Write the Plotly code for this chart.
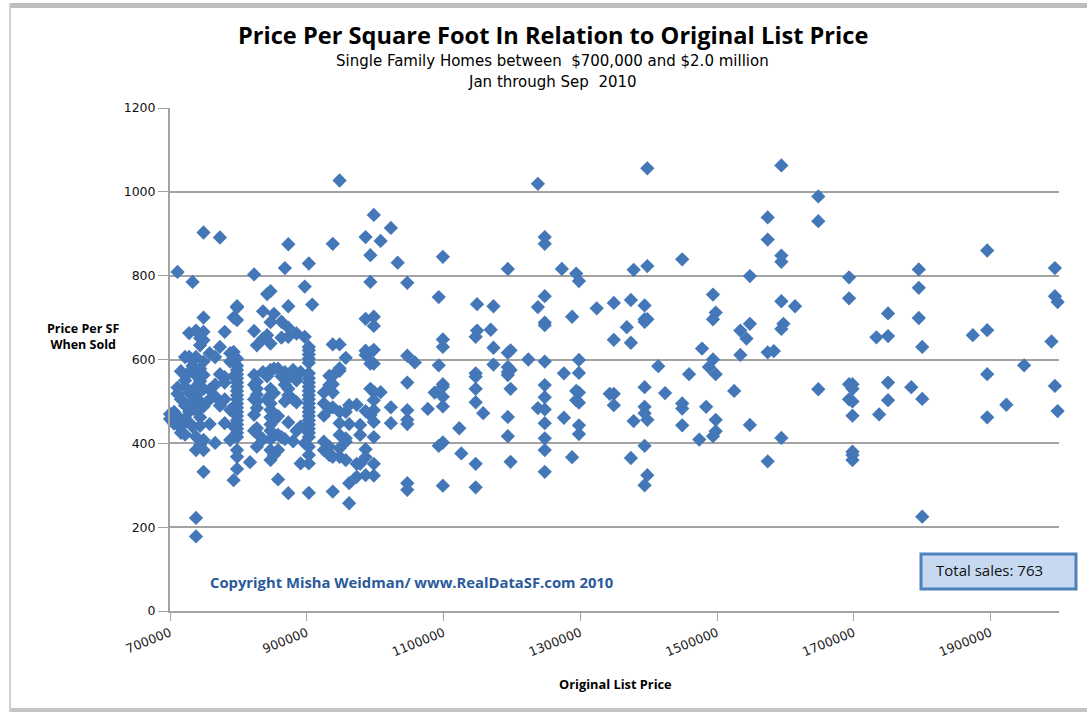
import plotly.graph_objects as go

# (list price, [price per square foot of the sales at that price])
band_700s = [
    (700000, [470, 458]), (706000, [475, 447]), (711000, [809, 533, 518, 465, 445]),
    (716000, [572, 505, 440, 425]), (722000, [606, 550, 535, 490, 458, 421]),
    (728000, [663, 606, 570, 520, 475, 450]), (733000, [785, 585, 500, 440]),
    (738000, [669, 606, 562, 535, 515, 478, 416, 384, 222, 178]),
    (744000, [651, 634, 578, 548, 500, 462, 442, 396]),
    (749000, [903, 700, 666, 646, 595, 563, 530, 488, 408, 384, 332]),
    (758000, [615, 528, 505, 446]), (766000, [606, 540, 512, 401]),
    (773000, [891, 630, 565, 490]), (780000, [666, 558, 545, 505, 448]),
    (788000, [615, 595, 480, 408]), (793000, [700, 618, 560, 440, 312]),
    (798000, [727, 724, 694, 602, 585, 575, 565, 555, 545, 535, 525, 515, 505, 495, 485, 475, 465, 455, 445, 435, 425, 415, 384, 368, 339]),
]
band_800s = [
    (817000, [355]), (823000, [803, 668, 563, 540, 505, 468, 430]),
    (827000, [634, 547, 530, 516, 500, 484, 436, 424, 392]), (836000, [715, 650, 570, 410]),
    (842000, [756, 658, 560, 505]), (847000, [763, 689, 638, 575, 530, 515, 495, 480, 462, 445, 430, 410, 384, 360]),
    (852000, [709, 578, 520, 455, 372]), (858000, [578, 465, 420, 384, 314]),
    (863000, [690, 652, 560, 415]), (868000, [818, 570, 540, 500, 410]),
    (873000, [875, 727, 676, 654, 555, 530, 515, 450, 281]), (880000, [575, 505, 405]),
    (885000, [662, 550, 498, 430]), (891000, [570, 440, 352]), (897000, [774, 654, 400]),
    (903000, [829, 630, 622, 612, 602, 592, 567, 555, 545, 535, 525, 515, 505, 495, 485, 475, 465, 455, 445, 435, 425, 415, 392, 372, 352, 282]),
    (908000, [731]),
]
band_900s = [
    (925000, [521, 495, 466, 404, 384]), (933000, [561, 539, 483, 392, 372]),
    (938000, [876, 636, 561, 541, 521, 486, 368, 285]), (948000, [1027, 636, 579, 573, 475, 448, 420, 388, 368]),
    (957000, [604, 475, 412, 404, 360]), (962000, [491, 446, 305, 257]), (973000, [492, 351, 320]),
    (978000, [444, 420, 351]), (986000, [892, 697, 621, 611, 477, 386, 367, 324]),
    (993000, [849, 785, 616, 590, 530, 467]),
    (998000, [945, 702, 680, 623, 590, 523, 503, 479, 451, 415, 351, 323]),
]
band_1000s = [
    (1008000, [883, 522]), (1023000, [914, 486, 448]), (1033000, [831]),
    (1047000, [783, 609, 545, 479, 456, 446, 305, 289]), (1058000, [593]), (1077000, [482]),
    (1087000, [521]), (1093000, [749, 586, 394]), (1099000, [845, 648, 630, 541, 535, 511, 488, 402, 299]),
    (1123000, [436]), (1126000, [376]), (1147000, [654, 567, 559, 530, 498, 351, 295]), (1158000, [472]),
    (1169000, [671]), (1149000, [732, 669]), (1173000, [727, 628, 588]),
    (1194000, [816, 616, 582, 570, 563, 463, 417]), (1198000, [622, 575, 530, 356]),
]
band_1200s = [
    (1224000, [600]), (1238000, [1019, 725, 484]),
    (1248000, [892, 876, 751, 688, 682, 595, 539, 510, 481, 448, 412, 384, 332]),
    (1276000, [567, 461]), (1273000, [816]), (1288000, [702, 367]), (1294000, [805, 525, 503]),
    (1298000, [787, 599, 568, 521, 497, 443, 422]), (1324000, [722]), (1349000, [735, 647, 518, 491]),
    (1368000, [677]), (1343000, [518]), (1374000, [742, 640, 365]), (1378000, [814, 453]),
]
band_1400s = [
    (1394000, [729, 696, 690, 534, 487, 472, 394, 300]), (1398000, [1056, 823, 696, 456, 324]),
    (1414000, [584]), (1424000, [520]), (1449000, [839, 495, 483, 443]), (1459000, [565]),
    (1474000, [409]), (1478000, [626]), (1484000, [487]), (1488000, [582]),
    (1494000, [755, 696, 600, 417]), (1498000, [712, 565, 456, 429]), (1525000, [525]),
    (1534000, [669, 611]), (1543000, [650]), (1548000, [799, 685, 444]), (1574000, [939, 886, 617, 357]),
    (1583000, [620]),
]
band_1600s = [
    (1594000, [1063, 848, 833, 739, 673, 413]), (1597000, [685]), (1614000, [727]),
    (1648000, [989, 930, 529]), (1693000, [796, 746, 541, 505]), (1698000, [541, 530, 500, 466, 380, 372, 360]),
    (1733000, [653]), (1737000, [469]), (1750000, [710, 656, 545, 503]), (1784000, [534]),
    (1795000, [815, 771, 699]), (1800000, [630, 506, 225]),
]
band_1800s = [
    (1874000, [658]), (1895000, [860, 670, 565, 462]), (1923000, [492]), (1949000, [586]),
    (1989000, [643]), (1994000, [818, 751, 537]), (1998000, [737, 477]),
]
bands = [band_700s, band_800s, band_900s, band_1000s, band_1200s, band_1400s, band_1600s, band_1800s]

list_price = [x for band in bands for x, ys in band for _ in ys]
price_per_sf = [y for band in bands for _, ys in band for y in ys]

y_ticks = [0, 200, 400, 600, 800, 1000, 1200]
x_ticks = [700000, 900000, 1100000, 1300000, 1500000, 1700000, 1900000]
title_text = "Price Per Square Foot In Relation to Original List Price"
subtitle_lines = ["Single Family Homes between  $700,000 and $2.0 million", "Jan through Sep  2010"]
copyright_text = "Copyright Misha Weidman/ www.RealDataSF.com 2010"
total_text = "Total sales: 763"

FONT = "Open Sans"
WIDE = "DejaVu Sans"
GRID = "#a3a3a3"
L, R, T, B = 170, 1059, 108, 611


def fx(px):
    return (px - L) / (R - L)


def fy(py):
    return (B - py) / (B - T)


def label(text, px, py, size, color="#000000", anchor="center", weight="normal", family=FONT):
    return dict(text=text, xref="paper", yref="paper", x=fx(px), y=fy(py), showarrow=False,
                xanchor=anchor, yanchor="middle", align="center",
                font=dict(size=size, color=color, family=family, weight=weight))


def box(x0, y0, x1, y1, fill, line=None, width=0):
    return dict(type="rect", xref="paper", yref="paper", x0=fx(x0), x1=fx(x1), y0=fy(y1), y1=fy(y0),
                fillcolor=fill, line=dict(color=line, width=width) if line else dict(width=0))


fig = go.Figure(go.Scatter(
    x=list_price, y=price_per_sf, mode="markers",
    marker=dict(symbol="diamond", size=11, color="#4477b8", line=dict(width=0)),
    cliponaxis=False, hoverinfo="x+y",
))

fig.update_layout(
    width=1087, height=714, autosize=False, showlegend=False,
    margin=dict(l=L, r=1087 - R, t=T, b=714 - B, pad=0),
    paper_bgcolor="white", plot_bgcolor="white",
    font=dict(family=FONT, color="#111111"),
    xaxis=dict(
        range=[700000, 2000000], tickvals=x_ticks, ticktext=[str(v) for v in x_ticks],
        tickangle=-22, tickfont=dict(size=12.5, color="#222222", family=WIDE), ticks="outside", ticklen=8,
        tickcolor=GRID, showgrid=False, zeroline=False, showline=True, linecolor=GRID, linewidth=2,
    ),
    yaxis=dict(
        range=[0, 1200], tickvals=y_ticks, tickfont=dict(size=12.5, color="#111111", family=WIDE),
        ticks="outside", ticklen=10, tickcolor=GRID, showgrid=True, gridcolor=GRID, gridwidth=1.5,
        zeroline=False, showline=True, linecolor=GRID, linewidth=2,
    ),
    shapes=[
        box(10, 3, 1087, 8, "#bdbdbd"),
        box(10, 708, 1087, 712, "#c4c4c4"),
        box(9, 3, 11, 712, "#d0d0d0"),
        box(921, 554, 1076, 589, "#c6d9f1", "#4f81bd", 3),
    ],
    annotations=[
        label(title_text, 552.5, 35, 23.6, weight="bold"),
        label(subtitle_lines[0], 552.5, 61, 15, family=WIDE),
        label(subtitle_lines[1], 552.5, 82, 15, family=WIDE),
        label("Price Per SF<br>When Sold", 83, 336, 12.5, weight="bold"),
        label("Original List Price", 615, 684, 12.8, weight="bold"),
        label(copyright_text, 208, 582, 14.8, color="#2a5a9a", anchor="left", weight="bold"),
        label(total_text, 934, 570, 15, color="#111111", anchor="left"),
    ],
)

fig.write_html("out.html", post_script="document.body.style.margin='0';", config={"displayModeBar": False})
